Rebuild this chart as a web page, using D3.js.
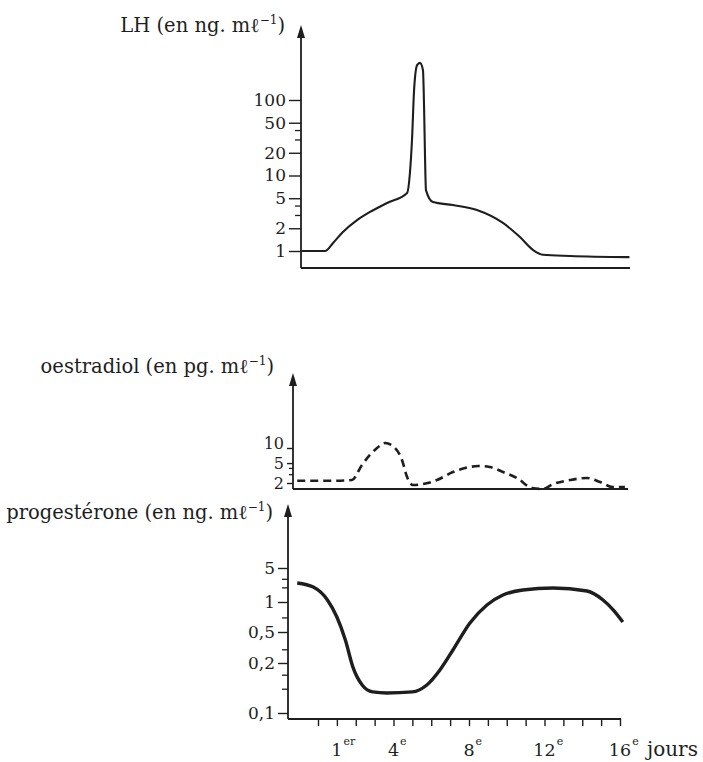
<!DOCTYPE html>
<html>
<head>
<meta charset="utf-8">
<script src="https://cdn.jsdelivr.net/npm/d3@7"></script>
<style>
body { margin: 0; background: #fff; }
svg text { font-family: "DejaVu Serif", "Liberation Serif", serif; fill: #1e1e1e; }
</style>
</head>
<body>
<svg id="chart" width="703" height="762"></svg>
<script>
// day of the cycle (first tick = day 0)
const lhDays = [-0.85, 0.37, 0.8, 1.32, 2.07, 2.75, 3.66, 4.72, 4.87, 4.98, 5.09, 5.25, 5.4, 5.56, 5.62, 5.67, 5.72, 6.09, 7.15, 8.42, 9.8, 10.7, 11.4, 11.92, 13.35, 16.5];
const lhValues = [1, 1, 1.28, 1.79, 2.57, 3.29, 4.32, 5.87, 10.8, 29.5, 135, 290, 310, 250, 80, 17.6, 6.4, 4.45, 4.06, 3.49, 2.35, 1.53, 1.03, 0.89, 0.86, 0.83];

const oestroDays = [-1.1, 0, 1, 1.8, 2.33, 2.75, 3.13, 3.55, 4.08, 4.45, 4.72, 5.03, 5.56, 6.3, 7.15, 8.05, 8.48, 9.1, 9.8, 10.54, 11.34, 11.9, 12.45, 13.35, 14.25, 14.94, 15.63, 16.26];
const oestroValues = [2.22, 2.22, 2.22, 2.3, 4.58, 7.25, 10, 12.6, 10, 5.77, 2.63, 1.82, 1.9, 2.29, 3.31, 4.18, 4.37, 4.18, 3.31, 2.52, 1.59, 1.52, 1.9, 2.29, 2.52, 2.09, 1.66, 1.66];

const progDays = [-1.1, -0.25, 0.5, 1.0, 1.45, 1.85, 2.35, 2.9, 3.65, 5.0, 5.75, 6.45, 7.15, 8.05, 8.95, 9.8, 10.85, 12.45, 14.25, 15.1, 15.65, 16.15];
const progValues = [2.46, 2.03, 1.1, 0.707, 0.395, 0.189, 0.147, 0.134, 0.132, 0.134, 0.147, 0.181, 0.294, 0.616, 0.933, 1.39, 1.76, 1.94, 1.68, 1.1, 0.83, 0.63];

const lhTicks = [1, 2, 5, 10, 20, 50, 100];
const lhMinor = [3, 4, 30, 40];
const oestroTicks = [2, 5, 10];
const oestroMinor = [3, 4];
const progTicks = [0.1, 0.2, 0.5, 1, 5];
const progMinor = [0.14, 0.17, 0.3, 0.7, 2, 3];

const dayTicks = [0, 1, 2, 3, 4, 5, 6, 7, 8, 9, 10, 11, 12, 13, 14, 15, 16];
const dayLabels = [1, 4, 8, 12, 16];
const daySuffix = ["er", "e", "e", "e", "e"];

const INK = "#1e1e1e";
const svg = d3.select("#chart");

const x = d3.scaleLinear().domain([0, 16]).range([318, 620]);

// hand drawn log axes: the bottom one is uneven, so it is piecewise
const panels = [
    {
        name: "LH", unit: "ng", axisX: 301, baseY: 268, top: 25, right: 630, titleX: 285, titleY: 32,
        y: d3.scaleLog().domain([1, 100]).range([251, 100]),
        ticks: lhTicks, minor: lhMinor, tickLen: 12, minorLen: 6, labelSize: 17, lift: {},
        days: lhDays, values: lhValues, width: 2.1, dash: null
    },
    {
        name: "oestradiol", unit: "pg", axisX: 293, baseY: 489, top: 373, right: 628, titleX: 274, titleY: 373,
        y: d3.scaleLog().domain([2, 10]).range([483, 448]),
        ticks: oestroTicks, minor: oestroMinor, tickLen: 6, minorLen: 4, labelSize: 16, lift: { 10: -5 },
        days: oestroDays, values: oestroValues, width: 2.6, dash: "8,5"
    },
    {
        name: "progestérone", unit: "ng", axisX: 288, baseY: 719, top: 504, right: 621, titleX: 273, titleY: 519,
        y: d3.scaleLog().domain([0.1, 0.2, 0.5, 1, 5]).range([713, 663, 632, 602, 568]),
        ticks: progTicks, minor: progMinor, tickLen: 10, minorLen: 6, labelSize: 17, lift: {},
        days: progDays, values: progValues, width: 3.4, dash: null
    }
];

const fmt = v => String(v).replace(".", ",");

panels.forEach(function (p) {
    let g = svg.append("g");

    // axes lines + arrow
    g.append("line")
        .attr("x1", p.axisX).attr("x2", p.axisX)
        .attr("y1", p.baseY).attr("y2", p.top + 8)
        .attr("stroke", INK).attr("stroke-width", 1.8);
    g.append("path")
        .attr("d", "M" + p.axisX + "," + p.top + " L" + (p.axisX - 4) + "," + (p.top + 13) +
            " L" + (p.axisX + 4) + "," + (p.top + 13) + " Z")
        .attr("fill", INK);
    g.append("line")
        .attr("x1", p.axisX).attr("x2", p.right)
        .attr("y1", p.baseY).attr("y2", p.baseY)
        .attr("stroke", INK).attr("stroke-width", 1.8);

    // y ticks
    g.append("g")
        .attr("transform", "translate(" + p.axisX + ",0)")
        .call(d3.axisLeft(p.y).tickValues(p.ticks).tickSize(p.tickLen).tickPadding(3).tickFormat(fmt))
        .call(a => a.select(".domain").remove())
        .call(a => a.selectAll("line").attr("stroke", INK).attr("stroke-width", 1.4))
        .call(a => a.selectAll("text")
            .attr("font-size", p.labelSize).attr("fill", INK)
            .attr("transform", d => "translate(0," + (p.lift[d] || 0) + ")")
            .style("font-family", "'DejaVu Serif', serif"));
    g.append("g")
        .attr("transform", "translate(" + p.axisX + ",0)")
        .call(d3.axisLeft(p.y).tickValues(p.minor).tickSize(p.minorLen).tickFormat(""))
        .call(a => a.select(".domain").remove())
        .call(a => a.selectAll("line").attr("stroke", INK).attr("stroke-width", 1.3));

    // title
    let t = g.append("text")
        .attr("x", p.titleX).attr("y", p.titleY)
        .attr("text-anchor", "end")
        .attr("font-size", 19.5);
    t.append("tspan").text(p.name + " (en " + p.unit + ". m\u2113");
    t.append("tspan").attr("dy", -8).attr("font-size", 12).text("\u22121");
    t.append("tspan").attr("dy", 8).text(")");

    // curve
    let line = d3.line()
        .x(function (d, i) { return x(p.days[i]); })
        .y(function (d) { return p.y(d); })
        .curve(d3.curveMonotoneX);
    g.append("path")
        .datum(p.values)
        .attr("d", line)
        .attr("fill", "none")
        .attr("stroke", INK)
        .attr("stroke-width", p.width)
        .attr("stroke-linejoin", "round")
        .attr("stroke-dasharray", p.dash);
});

// day axis under the progesterone panel
const bottom = panels[2];
svg.append("g")
    .attr("transform", "translate(0," + bottom.baseY + ")")
    .call(d3.axisBottom(x).tickValues(dayTicks).tickSize(7).tickFormat(""))
    .call(a => a.select(".domain").remove())
    .call(a => a.selectAll("line").attr("stroke", INK).attr("stroke-width", 1.4));

dayLabels.forEach(function (d, i) {
    let num = svg.append("text")
        .attr("x", x(d)).attr("y", 756)
        .attr("text-anchor", "middle")
        .attr("font-size", 17.5)
        .text(d);
    let w = num.node().getBBox().width;
    svg.append("text")
        .attr("x", x(d) + w / 2 + 1).attr("y", 745)
        .attr("font-size", 11)
        .text(daySuffix[i]);
});
svg.append("text")
    .attr("x", 647).attr("y", 756)
    .attr("font-size", 20)
    .text("jours");
</script>
</body>
</html>
